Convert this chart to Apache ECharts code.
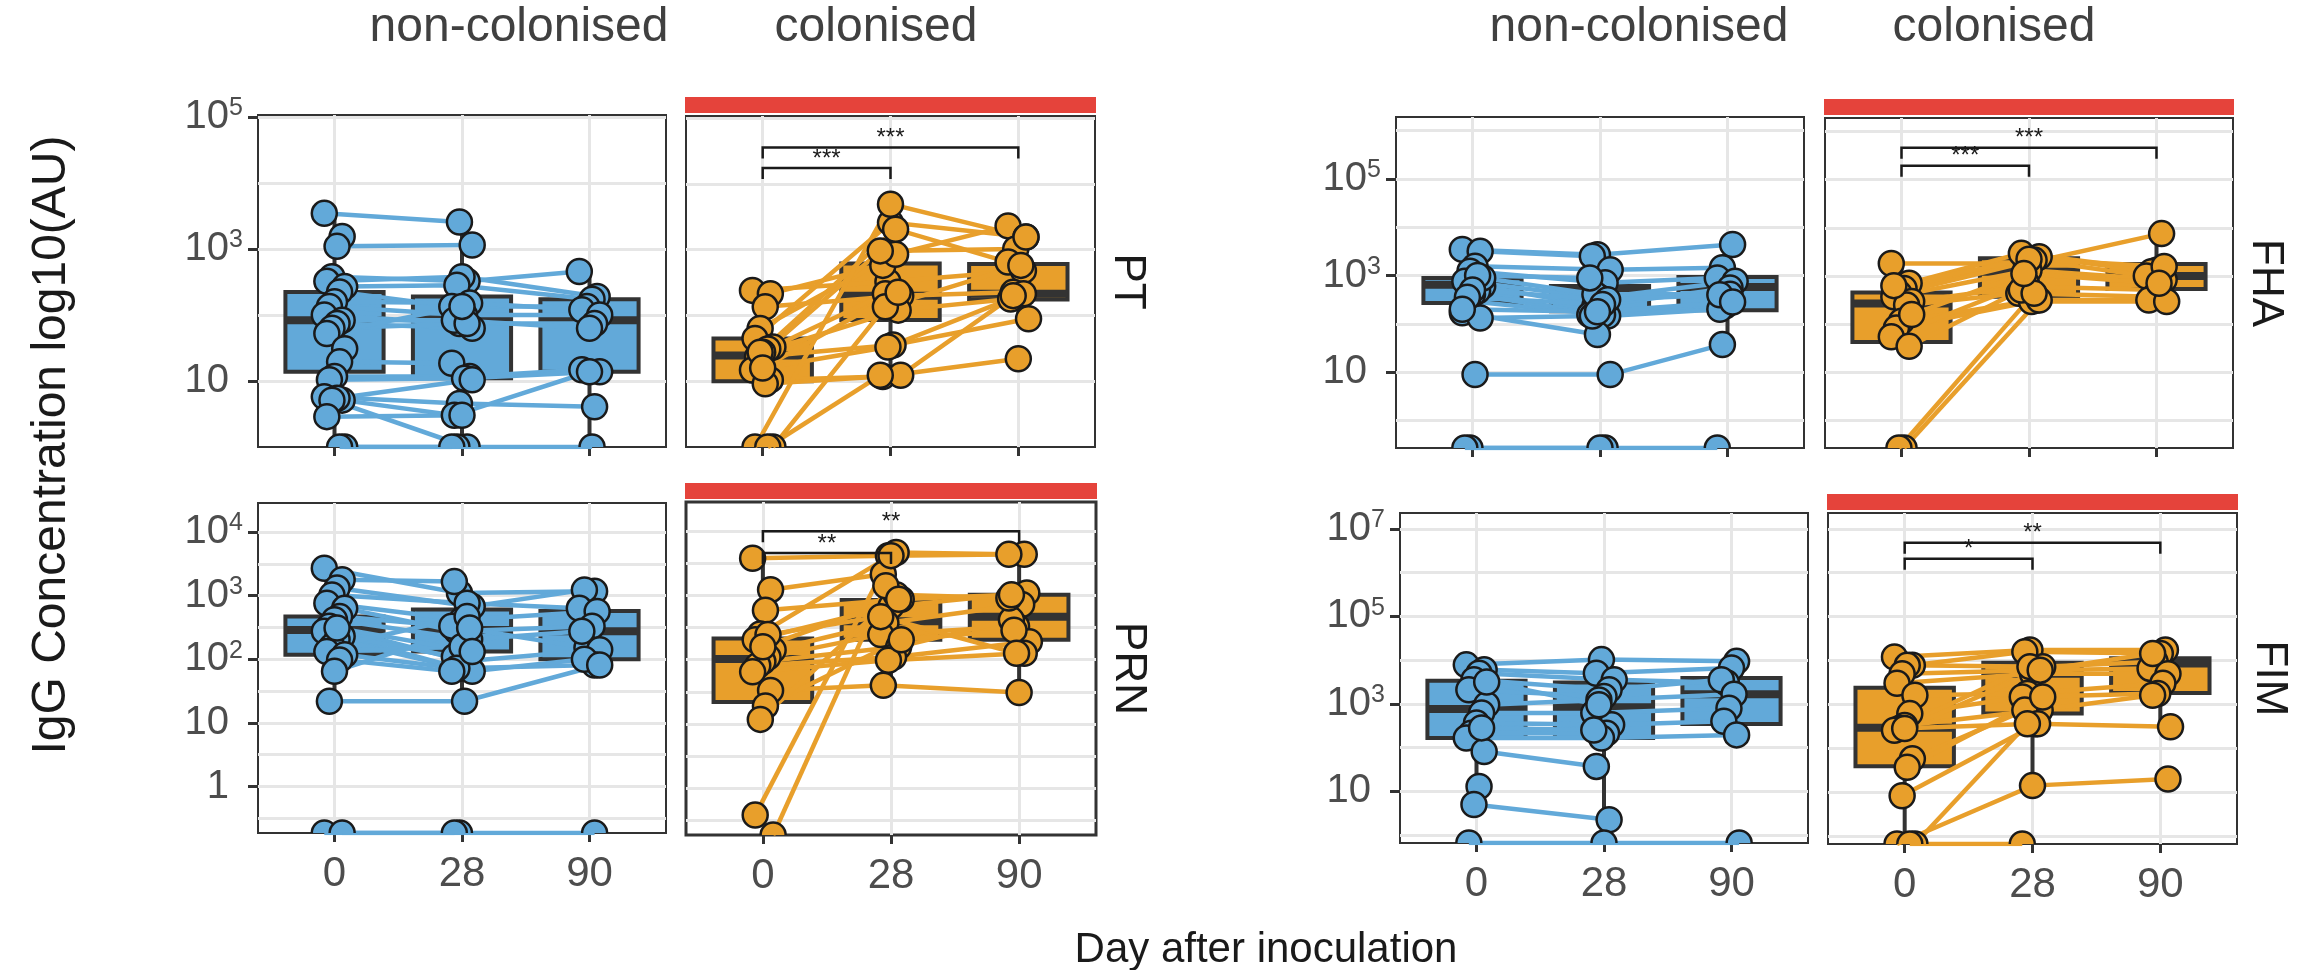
<!DOCTYPE html>
<html>
<head>
<meta charset="utf-8">
<script src="https://cdn.jsdelivr.net/npm/echarts@6/dist/echarts.min.js"></script>
<style>
  html, body { margin: 0; padding: 0; background: #fff; }
  #chart { width: 2305px; height: 970px; }
</style>
</head>
<body>
<div id="chart"></div>
<script>
// all values are log10(AU); points sitting on the bottom edge are below detection
const dayLabels = ['0', '28', '90'];

// one entry per subject, null = no sample that day
const ptNon0  = [3.54, 3.19, 3.04, 2.58, 2.51, 2.43, 2.35, 2.20, 2.13, 2.00, 1.92, 1.87, 1.80, 1.72, 1.49, 1.29, 1.07, 1.02, 0.76, 0.71, 0.74, 0.71, 0.46, 0, 0];
const ptNon28 = [3.41, null, 3.06, 2.51, 2.58, 2.45, 2.13, 2.18, 2.00, 1.87, 1.92, 1.80, 1.87, 2.13, null, 1.27, 1.07, 1.04, 0.66, 0.48, 1.02, 0, 0.48, 0, 0];
const ptNon90 = [null, null, null, 2.66, 2.28, 2.24, 2.13, 2.08, 2.00, 1.87, 1.80, null, null, null, null, null, 1.17, 1.14, 0.61, 1.14, null, null, null, 0, null];
const ptCol0  = [2.38, 2.33, 2.13, 1.80, 1.65, 1.52, 1.49, 1.44, 1.37, 1.17, 1.02, 0.96, 1.44, 0, 0, 0, 1.20];
const ptCol28 = [2.51, 2.76, 2.30, 2.93, 3.41, 2.33, 2.98, 2.08, 1.55, 1.52, 1.07, 1.09, 3.31, 3.69, 2.13, 1.09, 2.35];
const ptCol90 = [2.68, null, 2.35, 3.36, 3.19, null, 3.01, 2.25, 1.95, 2.33, 1.34, 2.30, 2.81, 3.19, 2.76, null, null];

const prnNon0  = [3.43, 3.25, 3.12, 3.01, 2.88, 2.80, 2.67, 2.62, 2.52, 2.44, 2.36, 2.31, 2.20, 2.12, 2.07, 1.99, 1.81, 1.34, -0.73, -0.73, 2.49];
const prnNon28 = [3.04, 3.22, 2.83, 2.88, 2.62, 2.44, 2.52, 2.31, 1.97, 1.86, 2.04, 1.81, 2.67, 2.20, 1.86, 1.81, 2.49, 1.34, -0.73, -0.73, 2.12];
const prnNon90 = [3.07, null, 3.09, 2.80, 2.75, 2.52, 2.18, 2.44, 2.15, 1.91, null, 2.00, null, null, null, null, null, 1.91, -0.73, null, null];
const prnCol0  = [3.58, 3.09, 2.77, 2.40, 2.31, 2.15, 2.04, 1.97, 1.91, 1.81, 1.52, 1.28, 1.07, -0.42, -0.73, 2.39, 2.20];
const prnCol28 = [3.62, 3.33, 2.94, 3.67, 2.83, 2.57, 2.39, 2.20, 2.04, 1.99, 1.60, 2.31, 3.01, 3.62, 3.15, 2.67, 2.94];
const prnCol90 = [3.64, null, null, 3.64, 3.04, 2.86, 2.52, 2.62, 2.28, 2.10, 1.49, 2.46, 2.96, null, null, 2.10, 3.01];

const fhaNon0  = [3.54, 3.50, 3.19, 3.09, 2.88, 2.78, 2.68, 2.61, 2.47, 2.23, 2.12, 0.95, -0.57, -0.57, 2.95, 3.00, 2.70, 2.55, 2.30];
const fhaNon28 = [3.43, 3.40, 3.12, 2.85, 2.54, 2.37, 2.19, 2.16, 2.19, 1.78, 2.16, 0.95, -0.57, -0.57, 2.61, 2.95, 2.50, 2.40, 2.25];
const fhaNon90 = [3.64, null, 3.16, 2.95, 2.88, 2.74, 2.37, 2.30, null, null, null, 1.57, -0.57, null, 2.61, null, 2.60, null, 2.45];
const fhaCol0  = [3.26, 2.85, 2.74, 2.64, 2.57, 2.47, 2.40, 2.06, 1.92, 1.74, 1.54, -0.57, -0.57, 2.80, 2.20];
const fhaCol28 = [3.26, 3.47, 3.40, 3.33, 3.12, 2.78, 2.64, 2.50, 2.47, 2.85, 2.71, 2.50, 2.64, 3.35, 3.05];
const fhaCol90 = [3.88, 3.12, 3.09, 3.00, 2.92, 2.71, 2.57, 2.50, 2.47, null, null, null, null, 3.20, 2.85];

const fimNon0  = [3.89, 3.78, 3.70, 3.55, 3.32, 2.98, 2.79, 2.56, 2.33, 2.22, 1.91, 1.11, 0.70, -0.18, 3.50, 2.45];
const fimNon28 = [4.01, 3.70, 3.55, 3.32, 3.17, 3.09, 2.79, 2.52, 2.33, 2.22, 1.57, null, 0.35, -0.18, 2.98, 2.40];
const fimNon90 = [3.97, 3.82, 3.48, 3.55, null, 3.22, 2.90, 2.60, null, 2.29, null, null, null, -0.18, null, null];
const fimCol0  = [4.08, 3.89, 3.89, 3.70, 3.48, 3.21, 2.79, 2.52, 2.45, 2.41, 1.76, 1.57, 0.92, -0.18, -0.18, -0.18, 2.45];
const fimCol28 = [4.24, 4.20, 3.86, 3.78, 3.70, 3.25, 3.17, 2.87, 2.56, 3.86, 2.87, 3.17, 2.56, 1.15, 2.56, -0.18, 3.78];
const fimCol90 = [4.24, 4.16, 3.97, 3.82, 3.70, 3.48, 3.25, 3.21, 2.49, null, null, null, null, 1.30, null, null, 4.16];

// box stats per day: [lower whisker, Q1, median, Q3, upper whisker]
const ptNonBox  = [[0, 1.14, 1.92, 2.35, 3.54], [0, 1.04, 1.93, 2.28, 3.41], [0, 1.14, 1.92, 2.24, 2.66]];
const ptColBox  = [[0.96, 1.00, 1.39, 1.65, 2.38], [1.07, 1.93, 2.30, 2.79, 3.69], [1.95, 2.24, 2.33, 2.78, 3.36]];
const prnNonBox = [[1.34, 2.07, 2.46, 2.67, 3.43], [1.34, 2.12, 2.46, 2.78, 3.22], [1.91, 2.00, 2.44, 2.76, 3.09]];
const prnColBox = [[1.07, 1.34, 2.01, 2.33, 3.58], [1.60, 2.31, 2.60, 2.93, 3.67], [1.49, 2.31, 2.67, 3.01, 3.64]];
const fhaNonBox = [[2.12, 2.43, 2.81, 2.95, 3.54], [1.78, 2.26, 2.68, 2.78, 3.43], [1.57, 2.28, 2.76, 2.97, 3.64]];
const fhaColBox = [[1.54, 1.63, 2.43, 2.66, 3.26], [2.47, 2.57, 3.09, 3.37, 3.47], [2.50, 2.73, 3.00, 3.25, 3.88]];
const fimNonBox = [[0.70, 2.22, 2.88, 3.53, 3.89], [0.35, 2.22, 2.92, 3.49, 4.01], [2.29, 2.54, 3.22, 3.59, 3.97]];
const fimColBox = [[-0.18, 1.59, 2.47, 3.38, 4.08], [1.15, 2.79, 3.70, 3.95, 4.24], [2.49, 3.26, 3.93, 4.05, 4.24]];

// significance brackets: [from day, to day, height (log10), stars]
const ptSig  = [[0, 1, 4.24, '***'], [0, 2, 4.55, '***']];
const prnSig = [[0, 1, 3.66, '**'], [0, 2, 4.00, '**']];
const fhaSig = [[0, 1, 5.29, '***'], [0, 2, 5.66, '***']];
const fimSig = [[0, 1, 6.32, '*'], [0, 2, 6.68, '**']];

// y scale per antigen: range, labelled decades, grid lines
const ptRange = [0, 5.03],       ptLabels = [1, 3, 5],        ptGrid = [1, 2, 3, 4, 5];
const prnRange = [-0.73, 4.455], prnLabels = [0, 1, 2, 3, 4], prnGrid = [-0.5, 0, 0.5, 1, 1.5, 2, 2.5, 3, 3.5, 4];
const fhaRange = [-0.57, 6.28],  fhaLabels = [1, 3, 5],       fhaGrid = [0, 1, 2, 3, 4, 5, 6];
const fimRange = [-0.18, 7.36],  fimLabels = [1, 3, 5, 7],    fimGrid = [0, 1, 2, 3, 4, 5, 6, 7];

const BLUE = '#62a9d9', ORANGE = '#e89f2b', DARK = '#333333', GRIDC = '#e6e6e6', TXT = '#4d4d4d', RED = '#e5433b';
const FONT = '"Liberation Sans", Arial, Helvetica, sans-serif';

const panels = [
  {d: [ptNon0, ptNon28, ptNon90], box: ptNonBox, col: BLUE, range: ptRange, labels: ptLabels, grid: ptGrid, left: 258, top: 115, w: 408, h: 332, yLab: true, xLab: false},
  {d: [ptCol0, ptCol28, ptCol90], box: ptColBox, col: ORANGE, range: ptRange, labels: ptLabels, grid: ptGrid, left: 686, top: 116, w: 409, h: 331, sig: ptSig, strip: 'PT', xLab: false},
  {d: [prnNon0, prnNon28, prnNon90], box: prnNonBox, col: BLUE, range: prnRange, labels: prnLabels, grid: prnGrid, left: 258, top: 503, w: 408, h: 330, yLab: true, xLab: true},
  {d: [prnCol0, prnCol28, prnCol90], box: prnColBox, col: ORANGE, range: prnRange, labels: prnLabels, grid: prnGrid, left: 686, top: 502, w: 410, h: 333, sig: prnSig, strip: 'PRN', xLab: true, bw: 3},
  {d: [fhaNon0, fhaNon28, fhaNon90], box: fhaNonBox, col: BLUE, range: fhaRange, labels: fhaLabels, grid: fhaGrid, left: 1396, top: 117, w: 408, h: 331, yLab: true, xLab: false},
  {d: [fhaCol0, fhaCol28, fhaCol90], box: fhaColBox, col: ORANGE, range: fhaRange, labels: fhaLabels, grid: fhaGrid, left: 1825, top: 118, w: 408, h: 330, sig: fhaSig, strip: 'FHA', xLab: false},
  {d: [fimNon0, fimNon28, fimNon90], box: fimNonBox, col: BLUE, range: fimRange, labels: fimLabels, grid: fimGrid, left: 1400, top: 513, w: 408, h: 330, yLab: true, xLab: true},
  {d: [fimCol0, fimCol28, fimCol90], box: fimColBox, col: ORANGE, range: fimRange, labels: fimLabels, grid: fimGrid, left: 1828, top: 513, w: 409, h: 331, sig: fimSig, strip: 'FIM', xLab: true}
];

// small fixed horizontal spread like geom_jitter
function jit(k, d) { return (((k * 7 + d * 3) % 9) - 4) * 0.02; }

function yLabel(v) {
  const e = Math.round(v * 2) / 2;
  if (e === 0) return '{b|1}{h|3}';
  if (e === 1) return '{b|10}{h|3}';
  return '{b|10}{s|' + e + '}';
}

const grids = [], xAxes = [], yAxes = [], series = [], graphics = [];

panels.forEach(function (p, i) {
  grids.push({left: p.left, top: p.top, width: p.w, height: p.h, show: true,
    borderColor: DARK, borderWidth: p.bw || 2, backgroundColor: '#fff'});

  xAxes.push({gridIndex: i, type: 'value', min: -0.6, max: 2.6, position: 'bottom',
    axisLine: {show: false, onZero: false},
    axisTick: {show: true, customValues: [0, 1, 2], length: 9, lineStyle: {color: DARK, width: 3}},
    axisLabel: {show: p.xLab, customValues: [0, 1, 2], formatter: function (v) { return dayLabels[Math.round(v)]; },
      fontSize: 42, fontFamily: FONT, color: TXT, margin: 20},
    splitLine: {show: true, lineStyle: {color: GRIDC, width: 3}}});

  // axis carrying data, ticks and labels
  yAxes.push({gridIndex: i, type: 'value', min: p.range[0], max: p.range[1], position: 'left',
    axisLine: {show: false, onZero: false}, splitLine: {show: false},
    axisTick: {show: !!p.yLab, customValues: p.labels, length: 10, lineStyle: {color: DARK, width: 3}},
    axisLabel: {show: !!p.yLab, customValues: p.labels, formatter: yLabel, margin: 15,
      rich: {
        b: {fontSize: 40, fontFamily: FONT, color: TXT, lineHeight: 42},
        s: {fontSize: 25, fontFamily: FONT, color: TXT, verticalAlign: 'top', lineHeight: 24},
        h: {fontSize: 25, fontFamily: FONT, color: 'rgba(0,0,0,0)', verticalAlign: 'top', lineHeight: 24}
      }}});
  // axis only for the grid lines (major + minor breaks)
  yAxes.push({gridIndex: i, type: 'value', min: p.range[0], max: p.range[1], position: 'right',
    axisLine: {show: false, onZero: false}, axisLabel: {show: false},
    axisTick: {show: false, customValues: p.grid},
    splitLine: {show: true, lineStyle: {color: GRIDC, width: 3}}});

  const yi = 2 * i;

  series.push({
    type: 'custom', xAxisIndex: i, yAxisIndex: yi, z: 2, clip: true, silent: true,
    data: p.box.map(function (b, k) { return [k].concat(b); }),
    encode: {x: 0, y: [1, 2, 3, 4, 5]},
    renderItem: function (params, api) {
      const x = api.value(0);
      const lo = api.coord([x, api.value(1)]), q1 = api.coord([x, api.value(2)]);
      const md = api.coord([x, api.value(3)]), q3 = api.coord([x, api.value(4)]);
      const hi = api.coord([x, api.value(5)]);
      const w = api.size([0.77, 0])[0];
      return {type: 'group', children: [
        {type: 'line', shape: {x1: lo[0], y1: lo[1], x2: q1[0], y2: q1[1]}, style: {stroke: DARK, lineWidth: 4}},
        {type: 'line', shape: {x1: q3[0], y1: q3[1], x2: hi[0], y2: hi[1]}, style: {stroke: DARK, lineWidth: 4}},
        {type: 'rect', shape: {x: q1[0] - w / 2, y: q3[1], width: w, height: q1[1] - q3[1]},
          style: {fill: p.col, stroke: DARK, lineWidth: 4}},
        {type: 'line', shape: {x1: md[0] - w / 2, y1: md[1], x2: md[0] + w / 2, y2: md[1]}, style: {stroke: DARK, lineWidth: 8}}
      ]};
    }
  });

  // one polyline per subject across the three days
  const nSub = p.d[0].length;
  const lineData = [], pts = [];
  for (let k = 0; k < nSub; k++) {
    const coords = [];
    for (let d = 0; d < 3; d++) {
      const v = p.d[d][k];
      if (v === null || v === undefined) continue;
      const c = [d + jit(k, d), v];
      coords.push(c);
      pts.push(c);
    }
    if (coords.length > 1) lineData.push({coords: coords});
  }
  series.push({
    type: 'lines', coordinateSystem: 'cartesian2d', xAxisIndex: i, yAxisIndex: yi,
    polyline: true, silent: true, z: 3, clip: true,
    lineStyle: {color: p.col, width: 4.5, opacity: 1},
    data: lineData
  });
  series.push({
    type: 'custom', xAxisIndex: i, yAxisIndex: yi, z: 4, clip: true, silent: true,
    data: pts, encode: {x: 0, y: 1},
    renderItem: function (params, api) {
      const c = api.coord([api.value(0), api.value(1)]);
      return {type: 'circle', shape: {cx: c[0], cy: c[1], r: 12.5}, style: {fill: p.col, stroke: '#1a1a1a', lineWidth: 2.5}};
    }
  });

  if (p.sig) {
    series.push({
      type: 'custom', xAxisIndex: i, yAxisIndex: yi, z: 5, clip: false, silent: true,
      data: p.sig.map(function (s) { return [s[0], s[1], s[2]]; }),
      encode: {x: [0, 1], y: 2},
      renderItem: function (params, api) {
        const a = api.coord([api.value(0), api.value(2)]);
        const b = api.coord([api.value(1), api.value(2)]);
        return {type: 'group', children: [
          {type: 'polyline', shape: {points: [[a[0], a[1] + 11], a, b, [b[0], b[1] + 11]]},
            style: {stroke: '#1a1a1a', lineWidth: 2.5, fill: null}},
          {type: 'text', x: (a[0] + b[0]) / 2, y: a[1] - 9,
            style: {text: p.sig[params.dataIndex][3], fontSize: 24, fontFamily: FONT, fill: '#1a1a1a',
              align: 'center', verticalAlign: 'middle'}}
        ]};
      }
    });
  }

  if (p.strip) {
    graphics.push({type: 'rect', shape: {x: p.left - 1, y: p.top - 19, width: p.w + 2, height: 16}, style: {fill: RED}});
    graphics.push({type: 'text', x: p.left + p.w + 32, y: p.top + p.h / 2, rotation: -Math.PI / 2,
      style: {text: p.strip, fontSize: 44, fontFamily: FONT, fill: '#1a1a1a', align: 'center', verticalAlign: 'middle'}});
  }
});

// column headers and shared axis titles
[[519, 'non-colonised'], [876, 'colonised'], [1639, 'non-colonised'], [1994, 'colonised']].forEach(function (t) {
  graphics.push({type: 'text', x: t[0], y: 28,
    style: {text: t[1], fontSize: 48, fontFamily: FONT, fill: '#404040', align: 'center', verticalAlign: 'middle'}});
});
graphics.push({type: 'text', x: 52, y: 445, rotation: Math.PI / 2,
  style: {text: 'IgG Concentration log10(AU)', fontSize: 48, fontFamily: FONT, fill: '#1a1a1a', align: 'center', verticalAlign: 'middle'}});
graphics.push({type: 'text', x: 1266, y: 950,
  style: {text: 'Day after inoculation', fontSize: 42, fontFamily: FONT, fill: '#1a1a1a', align: 'center', verticalAlign: 'middle'}});

const chart = echarts.init(document.getElementById('chart'), null, {renderer: 'canvas'});
chart.setOption({
  animation: false,
  backgroundColor: '#ffffff',
  grid: grids,
  xAxis: xAxes,
  yAxis: yAxes,
  series: series,
  graphic: graphics
});
</script>
</body>
</html>
